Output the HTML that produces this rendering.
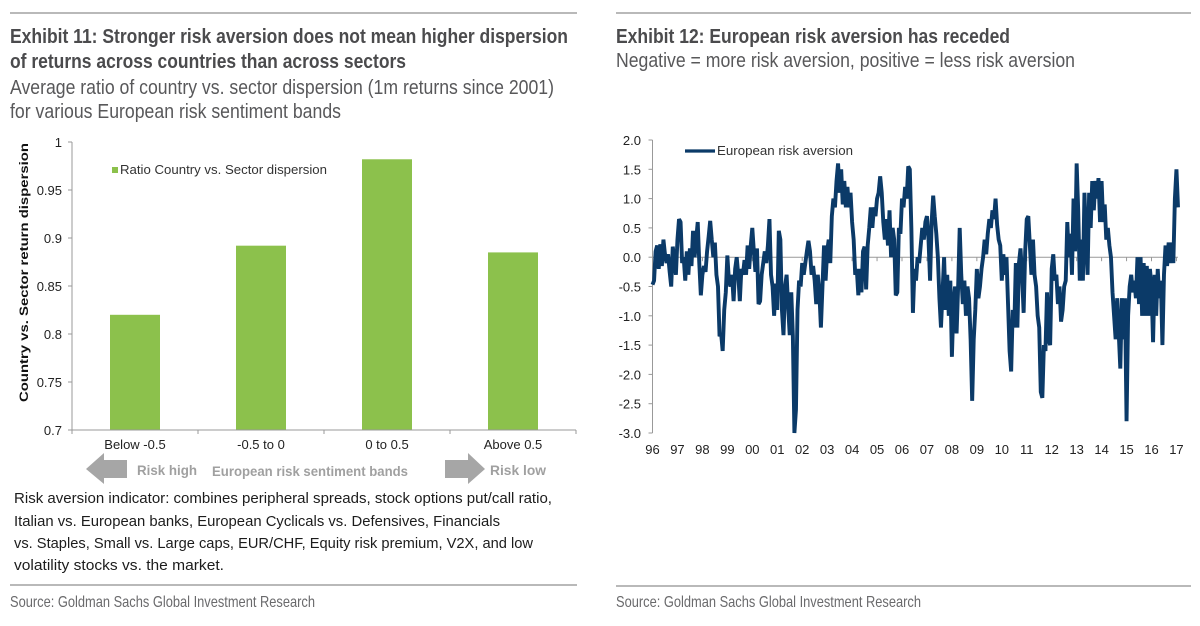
<!DOCTYPE html>
<html lang="en">
<head>
<meta charset="utf-8">
<title>European risk aversion exhibits</title>
<style>
html,body{margin:0;padding:0;background:#fff;width:1200px;height:626px;overflow:hidden}
svg{display:block;font-family:"Liberation Sans",sans-serif;filter:blur(0.3px)}
.ttl{font-family:"Liberation Sans Narrow","Liberation Sans",sans-serif;font-weight:700;font-size:20px;fill:#4b4b4d}
.sub{font-family:"Liberation Sans Narrow","Liberation Sans",sans-serif;font-size:20px;fill:#58585a}
.src{font-family:"Liberation Sans Narrow","Liberation Sans",sans-serif;font-size:16px;fill:#6a6a6c}
.note{font-size:15px;fill:#1c1c1c}
.tick{font-size:13px;fill:#222}
.gray{font-weight:700;fill:#a0a0a0}
</style>
</head>
<body>
<svg id="page" xmlns="http://www.w3.org/2000/svg" width="1200" height="626" viewBox="0 0 1200 626">
  <g>
    <line x1="10" x2="577" y1="13" y2="13" stroke="#8f8f8f" stroke-width="1.2"/>
    <text class="ttl" x="10" y="43" textLength="558" lengthAdjust="spacingAndGlyphs">Exhibit 11: Stronger risk aversion does not mean higher dispersion</text>
    <text class="ttl" x="10" y="68" textLength="396" lengthAdjust="spacingAndGlyphs">of returns across countries than across sectors</text>
    <text class="sub" x="10" y="94" textLength="544" lengthAdjust="spacingAndGlyphs">Average ratio of country vs. sector dispersion (1m returns since 2001)</text>
    <text class="sub" x="10" y="118" textLength="331" lengthAdjust="spacingAndGlyphs">for various European risk sentiment bands</text>
    <g id="barChart"></g>
    <text transform="translate(28,402) rotate(-90)" font-size="12" font-weight="700" fill="#111" textLength="259" lengthAdjust="spacingAndGlyphs">Country vs. Sector return dispersion</text>
    <rect x="112" y="167" width="6" height="6" fill="#8cc14c"/>
    <text x="120" y="174" font-size="13" fill="#333" textLength="207" lengthAdjust="spacingAndGlyphs">Ratio Country vs. Sector dispersion</text>
    <polygon points="86,469 104,453 104,460 127,460 127,478 104,478 104,484" fill="#a6a6a6"/>
    <text class="gray" x="137" y="475" font-size="14" textLength="60" lengthAdjust="spacingAndGlyphs">Risk high</text>
    <text class="gray" x="212" y="476" font-size="13.5" textLength="196" lengthAdjust="spacingAndGlyphs">European  risk sentiment bands</text>
    <polygon points="445,460 468,460 468,453 485,469 468,484 468,478 445,478" fill="#a6a6a6"/>
    <text class="gray" x="490" y="475" font-size="14" textLength="56" lengthAdjust="spacingAndGlyphs">Risk low</text>
    <text class="note" x="14" y="503" textLength="538" lengthAdjust="spacingAndGlyphs">Risk aversion indicator: combines peripheral spreads, stock options put/call ratio,</text>
    <text class="note" x="14" y="526" textLength="486" lengthAdjust="spacingAndGlyphs">Italian vs. European banks, European Cyclicals vs. Defensives, Financials</text>
    <text class="note" x="14" y="548" textLength="519" lengthAdjust="spacingAndGlyphs">vs. Staples, Small vs. Large caps, EUR/CHF, Equity risk premium, V2X, and low</text>
    <text class="note" x="14" y="570" textLength="210" lengthAdjust="spacingAndGlyphs">volatility stocks vs. the market.</text>
    <line x1="10" x2="577" y1="585" y2="585" stroke="#8f8f8f" stroke-width="1.2"/>
    <text class="src" x="10" y="607" textLength="305" lengthAdjust="spacingAndGlyphs">Source: Goldman Sachs Global Investment Research</text>
  </g>
  <g>
    <line x1="616" x2="1191" y1="13" y2="13" stroke="#8f8f8f" stroke-width="1.2"/>
    <text class="ttl" x="616" y="43" textLength="394" lengthAdjust="spacingAndGlyphs">Exhibit 12: European risk aversion has receded</text>
    <text class="sub" x="616" y="67" textLength="459" lengthAdjust="spacingAndGlyphs">Negative = more risk aversion, positive = less risk aversion</text>
    <g id="lineChart"></g>
    <line x1="685" x2="715" y1="151" y2="151" stroke="#0b3a68" stroke-width="3.2"/>
    <text x="717" y="155" font-size="12.5" fill="#333" textLength="136" lengthAdjust="spacingAndGlyphs">European risk aversion</text>
    <line x1="616" x2="1191" y1="586" y2="586" stroke="#8f8f8f" stroke-width="1.2"/>
    <text class="src" x="616" y="607" textLength="305" lengthAdjust="spacingAndGlyphs">Source: Goldman Sachs Global Investment Research</text>
  </g>
</svg>
<script>
// Exhibit 11 data
const barCategories = ["Below -0.5", "-0.5 to 0", "0 to 0.5", "Above 0.5"];
const barValues = [0.82, 0.892, 0.982, 0.885];
const barTicks = [0.7, 0.75, 0.8, 0.85, 0.9, 0.95, 1];

// Exhibit 12 data: 16 readings per year, starting with 1996
const yearLabels = ["96","97","98","99","00","01","02","03","04","05","06","07","08","09","10","11","12","13","14","15","16","17"];
const lineTicks = [2, 1.5, 1, 0.5, 0, -0.5, -1, -1.5, -2, -2.5, -3];
const readingsPerYear = 16;
const riskAversion = [
  -0.47,-0.4,0.1,0.2,-0.2,0.22,-0.15,0.3,0.05,-0.1,0.05,-0.25,-0.5,0.18,-0.05,-0.3,
  0.3,0.65,0.6,-0.1,0.0,-0.4,0.1,-0.3,0.15,-0.15,0.45,0.0,0.3,0.6,-0.1,-0.65,
  -0.3,-0.15,-0.25,0.1,0.35,0.62,0.3,0.0,0.25,-0.3,-0.5,-1.35,-1.3,-1.6,-0.9,-0.6,
  0.03,-0.4,-0.5,-0.3,-0.75,-0.2,0.0,-0.3,-0.75,-0.2,-0.3,-0.05,-0.3,0.2,-0.2,0.2,
  0.5,0.1,-0.25,0.15,-0.8,-0.75,-0.3,-0.1,0.1,-0.1,0.2,0.65,-0.3,-0.5,-1.0,-0.45,
  -0.9,0.45,0.3,-0.9,-1.33,-0.5,-0.3,-0.85,-1.33,-0.6,-1.33,-3.0,-2.6,-0.9,-0.4,-0.5,
  -0.1,-0.3,-0.1,0.1,0.28,0.1,-0.3,-0.15,-0.4,-0.8,-0.3,-0.6,-1.2,-0.5,0.2,-0.4,
  0.1,0.3,-0.1,0.7,1.0,0.85,1.3,1.6,1.1,1.5,0.9,1.3,0.85,1.2,0.85,1.1,
  0.6,0.3,-0.3,-0.2,-0.65,-0.2,-0.6,0.1,0.18,-0.55,0.2,0.5,0.85,0.5,0.85,0.7,
  1.0,1.1,1.38,1.1,0.6,0.3,0.65,0.2,0.8,0.0,0.5,0.3,-0.65,-0.6,0.5,0.4,
  1.0,0.85,1.2,1.0,1.55,1.5,0.5,-0.95,-0.2,-0.4,0.0,-0.1,0.2,0.5,0.3,0.6,
  0.7,0.3,-0.4,0.6,1.05,0.7,0.4,0.0,-0.7,-1.2,-0.6,0.0,-0.9,-0.3,-1.0,-0.4,
  -1.7,-0.8,-0.5,-1.3,-0.5,0.5,-0.3,-0.8,-0.4,-1.0,-0.5,-0.7,-1.4,-2.45,-1.4,-0.9,
  -0.2,-0.7,-0.5,-0.2,0.0,0.3,0.05,0.4,0.65,0.5,0.8,0.65,1.0,0.55,0.3,0.2,
  -0.4,0.05,-0.3,0.0,-0.8,-1.6,-1.95,-0.9,-1.2,-0.1,-1.2,-0.1,0.15,-0.3,-0.95,0.1,
  0.65,0.7,0.2,-0.3,0.3,-0.3,-0.5,-1.0,-1.2,-2.3,-2.4,-1.5,-1.6,-0.6,-1.4,-1.5,
  -0.2,0.05,-0.4,-0.3,-0.8,-0.5,-1.1,-0.9,-0.5,-0.4,0.6,0.0,0.4,-0.3,1.0,0.1,
  1.6,0.8,-0.4,0.3,-0.4,1.1,0.3,-0.3,1.1,0.5,1.3,0.8,1.3,1.0,1.35,0.6,
  1.3,0.6,0.9,0.3,0.5,0.2,0.0,-0.6,-1.0,-1.4,-0.7,-1.3,-1.9,-0.7,-1.4,-0.7,
  -2.8,-1.0,-0.5,-0.3,-0.6,-0.4,-0.7,0.0,-0.8,0.0,-1.0,-0.1,-1.0,-0.15,-1.0,-0.2,
  -0.5,-1.45,-0.3,-1.0,-0.2,-0.7,-0.4,-1.5,-0.3,0.2,-0.15,0.25,-0.1,0.25,-0.1,1.0,
  1.5,0.85
];

const NS = "http://www.w3.org/2000/svg";
function make(tag, parent, props) {
  const el = document.createElementNS(NS, tag);
  for (const k in props) el.setAttribute(k, props[k]);
  parent.appendChild(el);
  return el;
}

// ---- bar chart ----
(function () {
  const g = document.getElementById("barChart");
  const left = 72, right = 576, top = 142, bottom = 430;
  const yScale = v => bottom - (v - 0.7) / 0.3 * (bottom - top);
  const band = (right - left) / barCategories.length;
  const xCenter = i => left + band * (i + 0.5);
  const barWidth = 50;

  barTicks.forEach(t => {
    const y = yScale(t);
    const mark = make("line", g, {x1: left - 4, x2: left, y1: y, y2: y, stroke: "#999", "stroke-width": 1});
    
    
    const lab = make("text", g, {x: 62, y: y + 5, "text-anchor": "end", class: "tick"});
    lab.textContent = String(t);
    
    
  });
  barValues.forEach((v, i) => {
    const bar = make("rect", g, {x: xCenter(i) - barWidth / 2, y: yScale(v), width: barWidth, height: bottom - yScale(v), fill: "#8cc14c"});
    
    
    const lab = make("text", g, {x: xCenter(i), y: 449, "text-anchor": "middle", class: "tick", "font-size": 12.5});
    lab.textContent = barCategories[i];
    
    
  });
  for (let i = 0; i <= barCategories.length; i++) {
    const x = left + band * i;
    const mark = make("line", g, {x1: x, x2: x, y1: bottom, y2: bottom + 4, stroke: "#999", "stroke-width": 1});
    
    
  }
  const yAxis = make("line", g, {x1: left, x2: left, y1: top, y2: bottom, stroke: "#999", "stroke-width": 1});
  
  
  const xAxis = make("line", g, {x1: left, x2: right, y1: bottom, y2: bottom, stroke: "#999", "stroke-width": 1});
  
  
})();

// ---- line chart ----
(function () {
  const g = document.getElementById("lineChart");
  const left = 652.5, top = 140, bottom = 433, yearWidth = 24.95;
  const yScale = v => bottom - (v + 3) / 5 * (bottom - top);
  const xScale = yearPos => left + yearPos * yearWidth;

  lineTicks.forEach(t => {
    const y = yScale(t);
    const mark = make("line", g, {x1: left - 4, x2: left, y1: y, y2: y, stroke: "#999", "stroke-width": 1});
    
    
    const lab = make("text", g, {x: 641, y: y + 5, "text-anchor": "end", class: "tick"});
    lab.textContent = t.toFixed(1);
    
    
  });
  yearLabels.forEach((label, i) => {
    const x = xScale(i);
    const mark = make("line", g, {x1: x, x2: x, y1: yScale(0), y2: yScale(0) + 4, stroke: "#999", "stroke-width": 1});
    
    
    const lab = make("text", g, {x: x, y: 454, "text-anchor": "middle", class: "tick"});
    lab.textContent = label;
    
    
  });
  const yAxis = make("line", g, {x1: left, x2: left, y1: top, y2: bottom, stroke: "#999", "stroke-width": 1});
  
  
  const xAxis = make("line", g, {x1: left, x2: 1178, y1: yScale(0), y2: yScale(0), stroke: "#999", "stroke-width": 1});
  
  

  const d = riskAversion.map((v, i) =>
    (i ? "L" : "M") + xScale(i / readingsPerYear).toFixed(2) + " " + yScale(v).toFixed(2)).join("");
  const path = make("path", g, {d: d, fill: "none", stroke: "#0b3a68", "stroke-width": 3.9, "stroke-linejoin": "bevel"});
  
  
})();
</script>
</body>
</html>
